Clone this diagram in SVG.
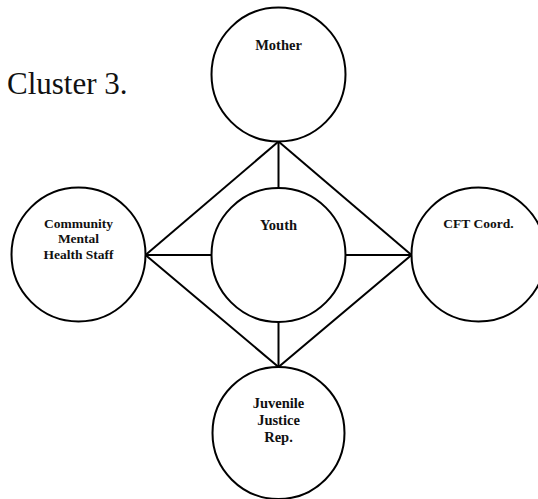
<svg xmlns="http://www.w3.org/2000/svg" width="538" height="499" viewBox="0 0 538 499">
  <style>
    .node { fill: #ffffff; stroke: #000000; stroke-width: 2; }
    .link { stroke: #000000; stroke-width: 2; fill: none; }
    text { font-family: 'Liberation Serif', 'Times New Roman', Times, 'DejaVu Serif', serif; }
    .label { font-weight: bold; fill: #111111; text-anchor: middle; }
    .big { font-size: 14.5px; }
    .small { font-size: 13.5px; }
    .title { font-size: 31px; fill: #111111; }
  </style>
  <defs>
    <clipPath id="titleClip">
      <rect x="0" y="0" width="200" height="94"/>
    </clipPath>
  </defs>
  <rect width="538" height="499" fill="#ffffff"/>

  <g clip-path="url(#titleClip)">
    <text class="title" x="7" y="93.5" font-family="Liberation Serif, serif">Cluster 3.</text>
  </g>

  <g id="connectors">
    <!-- Mother (bottom) -->
    <line class="link" x1="278.5" y1="141.5" x2="145.5" y2="255"/>
    <line class="link" x1="278.5" y1="141.5" x2="411.5" y2="255"/>
    <line class="link" x1="278.5" y1="141.5" x2="278.5" y2="188"/>
    <!-- Youth sides -->
    <line class="link" x1="145.5" y1="255" x2="211.5" y2="255"/>
    <line class="link" x1="345.5" y1="255" x2="411.5" y2="255"/>
    <!-- Juvenile Justice (top) -->
    <line class="link" x1="278.5" y1="367" x2="145.5" y2="255"/>
    <line class="link" x1="278.5" y1="367" x2="411.5" y2="255"/>
    <line class="link" x1="278.5" y1="367" x2="278.5" y2="322"/>
  </g>

  <g id="mother">
    <circle class="node" cx="278.5" cy="74.5" r="67"/>
    <text class="label big" x="278.5" y="49.5">Mother</text>
  </g>

  <g id="youth">
    <circle class="node" cx="278.5" cy="255" r="67"/>
    <text class="label big" x="278.5" y="229.5">Youth</text>
  </g>

  <g id="community-mental-health">
    <circle class="node" cx="78.5" cy="254.5" r="67"/>
    <text class="label small" x="78.5" y="227.5">Community</text>
    <text class="label small" x="78.5" y="243">Mental</text>
    <text class="label small" x="78.5" y="258.5">Health Staff</text>
  </g>

  <g id="cft-coord">
    <circle class="node" cx="478.5" cy="254.5" r="67"/>
    <text class="label small" x="478.5" y="227.5">CFT Coord.</text>
  </g>

  <g id="juvenile-justice">
    <circle class="node" cx="278.5" cy="433" r="66"/>
    <text class="label big" x="278.5" y="408">Juvenile</text>
    <text class="label big" x="278.5" y="425">Justice</text>
    <text class="label big" x="278.5" y="442">Rep.</text>
  </g>
</svg>
